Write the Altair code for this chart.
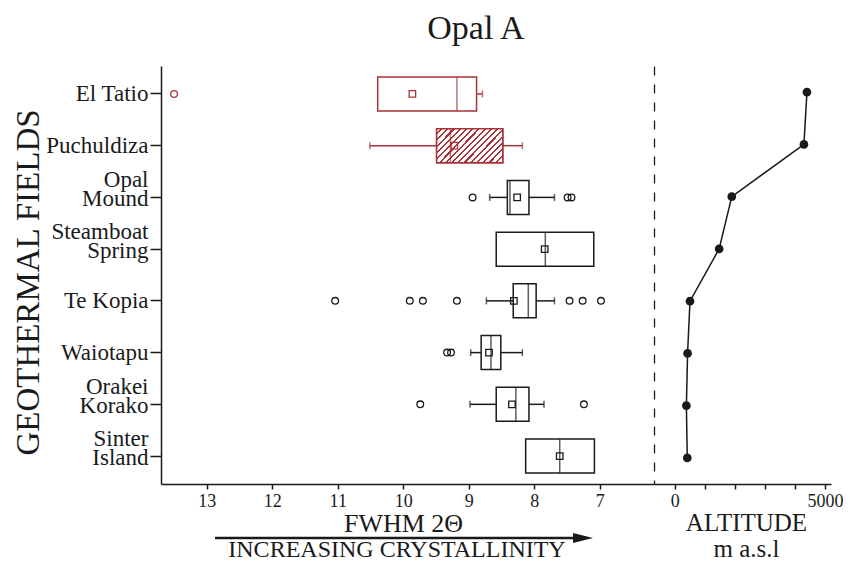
import altair as alt
import pandas as pd

# ---------------- data ----------------
fields = ["El Tatio", "Puchuldiza", "Opal|Mound", "Steamboat|Spring",
          "Te Kopia", "Waiotapu", "Orakei|Korako", "Sinter|Island"]
box_color = ["red", "red", "black", "black", "black", "black", "black", "black"]
q_upper = [10.39, 9.49, 8.41, 8.58, 8.32, 8.81, 8.58, 8.13]   # 75th percentile (left edge)
q_lower = [8.88, 8.48, 8.08, 7.09, 7.97, 8.51, 8.08, 7.08]    # 25th percentile (right edge)
medians = [9.18, 9.28, 8.37, 7.83, 8.09, 8.66, 8.28, 7.61]
means = [9.86, 9.22, 8.26, 7.84, 8.31, 8.69, 8.34, 7.61]
whisker_high = [None, 10.51, 8.68, None, 8.73, 8.97, 8.98, None]
whisker_low = [8.79, 8.18, 7.69, None, 7.69, 8.18, 7.85, None]
outlier_field = ["El Tatio",
                 "Opal|Mound", "Opal|Mound", "Opal|Mound",
                 "Te Kopia", "Te Kopia", "Te Kopia", "Te Kopia", "Te Kopia", "Te Kopia", "Te Kopia",
                 "Waiotapu", "Waiotapu",
                 "Orakei|Korako", "Orakei|Korako"]
outlier_value = [13.50,
                 8.94, 7.49, 7.43,
                 11.04, 9.90, 9.70, 9.18, 7.46, 7.26, 6.98,
                 9.33, 9.27,
                 9.74, 7.24]
hatched_fields = ["Puchuldiza"]
altitude = [4400, 4300, 1900, 1480, 510, 430, 390, 420]

fwhm_ticks = [13, 12, 11, 10, 9, 8, 7]
alt_ticks = [0, 1000, 2000, 3000, 4000, 5000]

# ---------------- styling ----------------
RED = "#a8343a"
BLACK = "#1a1a1a"
COLMAP = {"red": RED, "black": BLACK}
FONT = "Liberation Serif"
BOX_H = 34

boxes = pd.DataFrame({"field": fields, "q_upper": q_upper, "q_lower": q_lower,
                      "median": medians, "mean": means,
                      "col": [COLMAP[c] for c in box_color]})
whisk_rows = []
for f, c, qu, ql, wh, wl in zip(fields, box_color, q_upper, q_lower, whisker_high, whisker_low):
    if wh is not None:
        whisk_rows.append({"field": f, "a": qu, "b": wh, "col": COLMAP[c]})
    if wl is not None:
        whisk_rows.append({"field": f, "a": ql, "b": wl, "col": COLMAP[c]})
whiskers = pd.DataFrame(whisk_rows)
col_of = dict(zip(fields, [COLMAP[c] for c in box_color]))
outs = pd.DataFrame({"field": outlier_field, "v": outlier_value,
                     "col": [col_of[f] for f in outlier_field]})
hatch_df = boxes[boxes["field"].isin(hatched_fields)]
alt_df = pd.DataFrame({"field": fields, "altitude": altitude, "idx": list(range(len(fields)))})
anno = pd.DataFrame({"k": [0]})

# diagonal hatch made with a striped linear gradient
n = 16
stops = []
for k in range(n):
    b = k / n
    m = round(b + 0.66 / n, 5)
    e = round((k + 1) / n, 5)
    stops += [alt.GradientStop(offset=round(b, 5), color="white"),
              alt.GradientStop(offset=m, color="white"),
              alt.GradientStop(offset=m, color=RED),
              alt.GradientStop(offset=e, color=RED)]
hatch_fill = alt.LinearGradient(gradient="linear", stops=stops, x1=0, y1=0, x2=1.2, y2=0.608)

yscale = alt.Scale(domain=fields, paddingInner=0, paddingOuter=0.04)
xscale = alt.Scale(domain=[13.70, 6.17], nice=False, zero=False)
ascale = alt.Scale(domain=[-687, 5200], nice=False, zero=False)

W_L, W_R, H = 493, 177, 418

y_left_axis = alt.Axis(
    title="GEOTHERMAL FIELDS", titleFontSize=33, titleFontWeight="normal", titlePadding=0,
    titleY=216,
    labelFontSize=23, labelExpr="split(datum.label, '|')", labelLineHeight=19,
    labelOffset={"condition": {"test": "indexof(datum.label, '|') >= 0", "value": -17}, "value": 0},
    labelPadding=2, tickSize=11, labelLimit=300,
)
x_left_axis = alt.Axis(
    values=fwhm_ticks, format="d", title="FWHM 2Θ", titleFontSize=26,
    titleFontWeight="normal", titlePadding=0, titleX=242, labelFontSize=18,
    tickSize=5, labelPadding=3,
)
x_right_axis = alt.Axis(
    values=alt_ticks, format="d",
    labelExpr="datum.value == 0 || datum.value == 5000 ? datum.label : ''",
    title=["ALTITUDE", "m a.s.l"], titleFontSize=25, titleFontWeight="normal",
    titleLineHeight=26, titlePadding=0, titleX=92, labelFontSize=18, tickSize=5, labelPadding=3,
)
y_right_axis = alt.Axis(labels=False, ticks=False, title="", domainDash=[9, 9], domainWidth=1.3)


def YL():
    return alt.Y("field:N", sort=fields, scale=yscale, axis=y_left_axis)


def YR():
    return alt.Y("field:N", sort=fields, scale=yscale, axis=y_right_axis)


def XL(f):
    return alt.X(f, scale=xscale, axis=x_left_axis)


box_layer = alt.Chart(boxes).mark_bar(fill="white", strokeWidth=1.5, size=BOX_H).encode(
    x=XL("q_upper:Q"), x2="q_lower:Q", y=YL(),
    stroke=alt.Stroke("col:N", scale=None),
)
hatch_layer = alt.Chart(hatch_df).mark_bar(fill=hatch_fill, strokeWidth=1.5, size=BOX_H).encode(
    x=XL("q_upper:Q"), x2="q_lower:Q", y=YL(),
    stroke=alt.Stroke("col:N", scale=None),
)
whisk_layer = alt.Chart(whiskers).mark_rule(strokeWidth=1.5).encode(
    x=XL("a:Q"), x2="b:Q", y=YL(),
    color=alt.Color("col:N", scale=None),
)
cap_layer = alt.Chart(whiskers).mark_tick(size=7, thickness=1.5).encode(
    x=XL("b:Q"), y=YL(),
    color=alt.Color("col:N", scale=None),
)
median_layer = alt.Chart(boxes).mark_tick(size=BOX_H, thickness=1.5).encode(
    x=XL("median:Q"), y=YL(),
    color=alt.Color("col:N", scale=None),
)
mean_layer = alt.Chart(boxes).mark_point(shape="square", size=42, filled=False,
                                         strokeWidth=1.3, opacity=1).encode(
    x=XL("mean:Q"), y=YL(),
    color=alt.Color("col:N", scale=None),
)
out_layer = alt.Chart(outs).mark_point(shape="circle", size=45, filled=False,
                                       strokeWidth=1.3, opacity=1).encode(
    x=XL("v:Q"), y=YL(),
    color=alt.Color("col:N", scale=None),
)
arrow_line = alt.Chart(anno).mark_rule(strokeWidth=2.6, color=BLACK).encode(
    x=alt.value(54), x2=alt.value(417), y=alt.value(472))
arrow_head = alt.Chart(anno).mark_point(shape="M-1,-0.5L1,0L-1,0.5Z", size=400, filled=True,
                                        color=BLACK, opacity=1).encode(
    x=alt.value(422), y=alt.value(472))
arrow_text = alt.Chart(anno).mark_text(text="INCREASING CRYSTALLINITY", fontSize=24, font=FONT,
                                       align="center", baseline="alphabetic", color=BLACK).encode(
    x=alt.value(236), y=alt.value(491))

left = alt.layer(box_layer, hatch_layer, whisk_layer, cap_layer, median_layer, mean_layer,
                 out_layer, arrow_line, arrow_head, arrow_text).properties(width=W_L, height=H)

alt_line = alt.Chart(alt_df).mark_line(color=BLACK, strokeWidth=1.5).encode(
    x=alt.X("altitude:Q", scale=ascale, axis=x_right_axis),
    y=YR(),
    order="idx:Q",
)
alt_pts = alt.Chart(alt_df).mark_circle(size=75, color=BLACK, opacity=1).encode(
    x=alt.X("altitude:Q", scale=ascale, axis=x_right_axis),
    y=YR(),
)
right = alt.layer(alt_line, alt_pts).properties(width=W_R, height=H)

chart = alt.hconcat(left, right, spacing=0).properties(
    title=alt.TitleParams("Opal A", fontSize=34, font=FONT, fontWeight="normal",
                          color=BLACK, anchor="middle", dx=48, offset=20),
    padding={"left": 4, "top": 4, "right": 0, "bottom": 0},
    background="white",
).configure_view(stroke=None).configure_axis(
    labelFont=FONT, titleFont=FONT, labelColor=BLACK, titleColor=BLACK,
    domainColor=BLACK, tickColor=BLACK, domainWidth=1.5, tickWidth=1.5, grid=False,
).configure_text(font=FONT)

chart.save("out.html", embed_options={"renderer": "svg", "actions": False})
